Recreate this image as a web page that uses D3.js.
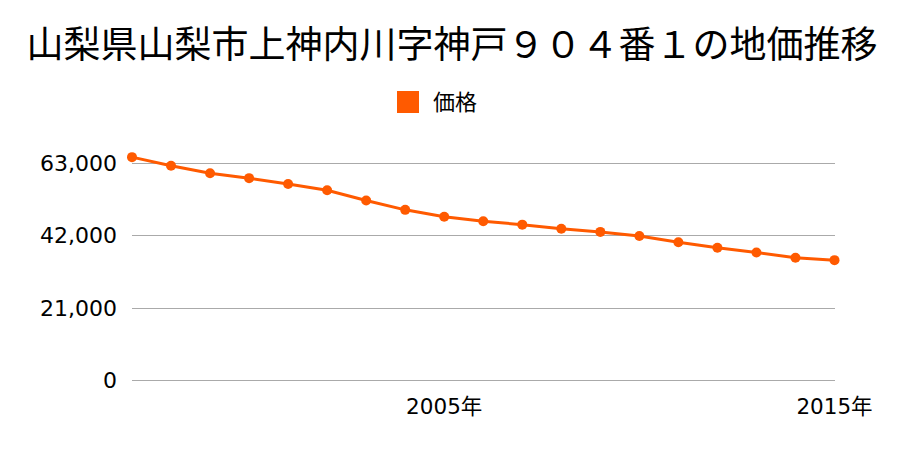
<!DOCTYPE html>
<html><head><meta charset="utf-8">
<script src="https://cdn.jsdelivr.net/npm/d3@7"></script>
<style>body{margin:0;background:#fff;font-family:"Noto Sans CJK JP","Noto Sans",sans-serif;}</style>
</head><body>
<svg id="c" width="900" height="450"></svg>
<script>
const years = [1997,1998,1999,2000,2001,2002,2003,2004,2005,2006,2007,2008,2009,2010,2011,2012,2013,2014,2015];
const prices = [64700,62200,60000,58600,56900,55100,52100,49400,47400,46100,45100,43900,43000,41800,40000,38400,37000,35500,34800];
const yTicks = [0,21000,42000,63000];
const xTickYears = [2005,2015];
const title = "山梨県山梨市上神内川字神戸９０４番１の地価推移";
const seriesName = "価格";
const color = "#ff5a00";
const labelFont = "'DejaVu Sans','Noto Sans CJK JP',sans-serif";

const svg = d3.select("#c");
const x = d3.scaleLinear().domain([1997,2015]).range([132,834.5]);
const y = d3.scaleLinear().domain([0,63000]).range([380,163]);

svg.append("text").attr("x",452).attr("y",58).attr("text-anchor","middle")
  .attr("font-size",37).attr("fill","#000").text(title);

svg.append("rect").attr("x",397).attr("y",91).attr("width",22).attr("height",22).attr("fill",color);
svg.append("text").attr("x",433).attr("y",110).attr("font-size",22).attr("fill","#000").text(seriesName);

const grid = svg.append("g");
grid.selectAll("line").data(yTicks).join("line")
  .attr("x1",132).attr("x2",835).attr("y1",d=>Math.round(y(d))+0.5).attr("y2",d=>Math.round(y(d))+0.5)
  .attr("stroke","#aaa").attr("stroke-width",1);

const fmt = d3.format(",");
svg.append("g").selectAll("text").data(yTicks).join("text")
  .attr("x",117).attr("y",d=>y(d)+8).attr("text-anchor","end")
  .attr("font-family",labelFont).attr("font-size",22).attr("fill","#000").text(d=>fmt(d));

svg.append("g").selectAll("text").data(xTickYears).join("text")
  .attr("x",d=>x(d)).attr("y",414).attr("text-anchor","middle")
  .attr("font-family",labelFont).attr("font-size",21.5).attr("fill","#000").text(d=>d+"年");

const data = years.map((yr,i)=>({yr,v:prices[i]}));
svg.append("path").datum(data)
  .attr("d",d3.line().x(d=>x(d.yr)).y(d=>y(d.v)))
  .attr("fill","none").attr("stroke",color).attr("stroke-width",3);
svg.append("g").selectAll("circle").data(data).join("circle")
  .attr("cx",d=>x(d.yr)).attr("cy",d=>y(d.v)).attr("r",5).attr("fill",color);
</script>
</body></html>
